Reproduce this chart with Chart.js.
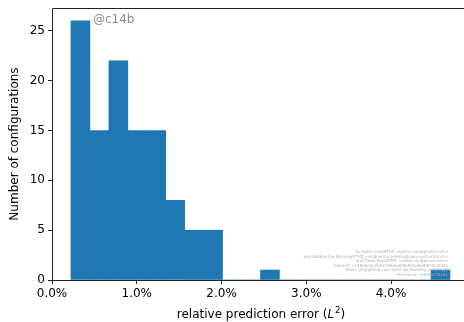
<!DOCTYPE html>
<html>
<head>
<meta charset="utf-8">
<script src="https://cdn.jsdelivr.net/npm/chart.js@4.4.1/dist/chart.umd.min.js"></script>
<style>
  html, body { margin: 0; padding: 0; background: #fff; overflow: hidden; }
  #wrap { width: 464px; height: 322px; }
</style>
</head>
<body>
<div id="wrap"><canvas id="hist"></canvas></div>
<script>
"use strict";

// histogram bins (centres, in %) and counts
const binCenters = [0.335, 0.559, 0.783, 1.006, 1.230, 1.453, 1.677, 1.900, 2.124, 2.347,
                    2.571, 2.795, 3.018, 3.242, 3.465, 3.689, 3.912, 4.136, 4.359, 4.583];
const counts = [26, 15, 22, 15, 15, 8, 5, 5, 0, 0, 1, 0, 0, 0, 0, 0, 0, 0, 0, 1];
const xLabel = ["relative prediction error (", "L", "2", ")"];
const yLabel = "Number of configurations";
const tag = "@c14b";
const credits = [
    "by Kjetil Lye@ETHZ <kjetil.o.lye@gmail.com>",
    "and Siddhartha Mishra@ETHZ <siddhartha.mishra@sam.math.ethz.ch>",
    "and Deep Ray@EPFL <deep.ray@gmail.com>",
    "Commit: c148b6e1c2b5af39b9a6f8b921a0e8f632cf3d7a",
    "Repo: git@github.com:kjetil-lye/learning_airfoils.git",
    "Hostname: 3c6b9e1f2a41"
];

const FONT = "'DejaVu Sans', sans-serif";

const decor = {
    id: 'decor',
    afterDraw(chart) {
        const ctx = chart.ctx;
        const a = chart.chartArea;
        ctx.save();
        // spines
        ctx.strokeStyle = '#222';
        ctx.lineWidth = 1;
        ctx.beginPath();
        ctx.moveTo(a.left + 0.5, a.top + 0.5);
        ctx.lineTo(a.right + 2, a.top + 0.5);
        ctx.moveTo(a.left + 0.5, a.top + 0.5);
        ctx.lineTo(a.left + 0.5, a.bottom + 0.5);
        ctx.moveTo(a.left + 0.5, a.bottom + 0.5);
        ctx.lineTo(a.right + 2, a.bottom + 0.5);
        ctx.stroke();

        // tag
        ctx.fillStyle = '#8a8a8a';
        ctx.font = '12px ' + FONT;
        ctx.textBaseline = 'middle';
        ctx.textAlign = 'left';
        ctx.fillText(tag, 93, 20);

        // credits
        ctx.fillStyle = '#b0b0b0';
        ctx.font = '4px ' + FONT;
        ctx.textAlign = 'right';
        credits.forEach(function(line, i) {
            ctx.fillText(line, 448, 252 + i * 4.5);
        });

        // y title
        ctx.fillStyle = '#000';
        ctx.font = '12px ' + FONT;
        ctx.textAlign = 'center';
        ctx.translate(15, (a.top + a.bottom) / 2);
        ctx.rotate(-Math.PI / 2);
        ctx.fillText(yLabel, 0, 0);
        ctx.restore();

        // x title with italic L and superscript 2
        ctx.save();
        ctx.fillStyle = '#000';
        ctx.textBaseline = 'alphabetic';
        ctx.textAlign = 'left';
        const normal = '12px ' + FONT;
        const italic = 'italic 12px ' + FONT;
        const sup = '8.5px ' + FONT;
        ctx.font = normal;
        const w0 = ctx.measureText(xLabel[0]).width;
        const w3 = ctx.measureText(xLabel[3]).width;
        ctx.font = italic;
        const w1 = ctx.measureText(xLabel[1]).width;
        ctx.font = sup;
        const w2 = ctx.measureText(xLabel[2]).width;
        const total = w0 + w1 + w2 + 1 + w3;
        let x = (a.left + 464) / 2 + 3 - total / 2;
        const y = 318;
        ctx.font = normal; ctx.fillText(xLabel[0], x, y); x += w0;
        ctx.font = italic; ctx.fillText(xLabel[1], x, y); x += w1 + 1;
        ctx.font = sup; ctx.fillText(xLabel[2], x, y - 5); x += w2;
        ctx.font = normal; ctx.fillText(xLabel[3], x, y);
        ctx.restore();
    }
};

new Chart(document.getElementById('hist'), {
    type: 'bar',
    data: {
        datasets: [{
            data: binCenters.map(function(c, i) { return { x: c, y: counts[i] }; }),
            backgroundColor: '#1f77b4',
            borderWidth: 0,
            barPercentage: 1.0,
            categoryPercentage: 1.0
        }]
    },
    options: {
        responsive: true,
        maintainAspectRatio: false,
        animation: false,
        layout: { padding: { top: 8, right: 0, left: 0, bottom: 0 } },
        plugins: {
            legend: { display: false },
            tooltip: { enabled: false }
        },
        scales: {
            x: {
                type: 'linear',
                min: 0,
                max: 4.86,
                offset: false,
                afterFit: function(scale) {
                    scale.height = 42;
                    scale.paddingLeft = 0;
                    scale.paddingRight = 0;
                },
                border: { display: false },
                grid: {
                    offset: false,
                    drawOnChartArea: false,
                    drawTicks: true,
                    tickLength: 4,
                    tickColor: '#222'
                },
                ticks: {
                    stepSize: 1,
                    includeBounds: false,
                    color: '#000',
                    font: { family: FONT, size: 12 },
                    padding: 3,
                    maxRotation: 0,
                    autoSkip: false,
                    callback: function(v) { return v.toFixed(1) + '%'; }
                }
            },
            y: {
                min: 0,
                max: 27.3,
                afterFit: function(scale) {
                    scale.width = 52;
                    scale.paddingTop = 0;
                    scale.paddingBottom = 0;
                },
                border: { display: false },
                grid: {
                    drawOnChartArea: false,
                    drawTicks: true,
                    tickLength: 4,
                    tickColor: '#222'
                },
                ticks: {
                    stepSize: 5,
                    includeBounds: false,
                    color: '#000',
                    font: { family: FONT, size: 12 },
                    padding: 3
                }
            }
        }
    },
    plugins: [decor]
});
</script>
</body>
</html>
